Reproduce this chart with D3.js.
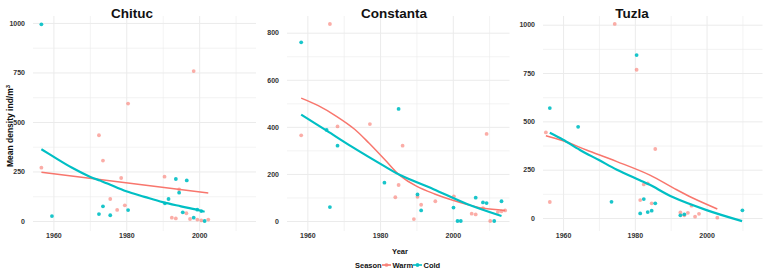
<!DOCTYPE html>
<html>
<head>
<meta charset="utf-8">
<script src="https://cdn.jsdelivr.net/npm/d3@7"></script>
<style>
  body { margin: 0; background: #fff; }
  text { font-family: "Liberation Sans", Arial, sans-serif; }
</style>
</head>
<body>
<div id="chart"></div>
<script>
// CHART DEFAULTS
const WIDTH = 765;
const HEIGHT = 274;
const PLOT_TOP = 16;
const PLOT_BOTTOM = 231;
const WARM_COLOR = '#F8766D';
const COLD_COLOR = '#00BFC4';
const GRID_COLOR = '#ebebeb';

// x axis shared by all three stations
const X_DOMAIN = [1954.4, 2015.6];
const X_TICKS = [1960, 1980, 2000];
const X_MINOR = [1970, 1990, 2010];

const STATIONS = ['Chituc', 'Constanta', 'Tuzla'];
const SEASONS = ['Warm', 'Cold'];

// CHITUC  [year, mean density]
const chitucWarm = [[1956.7,269],[1972.5,433],[1973.6,305],[1975.6,111],[1977.5,56],[1978.6,217],
  [1979.6,79],[1980.5,593],[1990.5,224],[1992.5,17],[1993.6,13],[1994.5,160],[1996.5,39],
  [1997.5,10],[1998.5,757],[1999.5,7],[2000.6,3],[2002.5,7]];
const chitucCold = [[1956.7,993],[1959.6,25],[1972.5,35],[1973.6,74],[1975.6,29],[1980.5,55],
  [1990.6,89],[1991.6,111],[1993.6,212],[1994.5,143],[1995.5,44],[1996.6,205],[1998.5,17],
  [1999.5,57],[2000.6,50],[2001.5,0]];
const chitucWarmFit = [[1956.7,246],[2002.5,141]];
const chitucColdFit = [[1956.7,362],[1960,325],[1965,270],[1970,224],[1972.8,204],[1975,188],
  [1980,150],[1985,122],[1990,95],[1995,74],[2000,54],[2001.5,47]];
const chitucTicks = [0, 250, 500, 750, 1000];
const chitucMinor = [125, 375, 625, 875];

// CONSTANTA
const constantaWarm = [[1958.3,364],[1966.2,837],[1968.3,402],[1977.2,412],[1984.2,101],[1985.1,153],
  [1986.2,320],[1989.3,8],[1990.3,103],[1991.3,69],[1995.2,84],[2000.3,105],[2005.2,31],
  [2006.3,28],[2008.3,55],[2009.3,370],[2010.3,0],[2012.4,38],[2013.4,41],[2014.4,45]];
const constantaCold = [[1958.3,759],[1965.3,387],[1966.2,59],[1968.3,320],[1981.2,163],[1985.1,476],
  [1990.3,113],[1991.3,45],[2000.2,57],[2001.3,0],[2002.2,0],[2006.3,99],[2008.3,79],
  [2009.3,76],[2011.4,0],[2013.4,84]];
const constantaWarmFit = [[1958.3,522],[1963,490],[1968,445],[1973,390],[1977,330],
  [1981.4,259],[1985.5,193],[1990,148],[1995,115],[2000,88],[2004,70],[2008.4,54],[2014.4,45]];
const constantaColdFit = [[1958.3,452],[1965.3,384],[1972.2,316],[1981.4,231],[1985.5,195],
  [1994.7,135],[2003.9,72],[2013.4,21]];
const constantaTicks = [0, 200, 400, 600, 800];
const constantaMinor = [100, 300, 500, 700];

// TUZLA
const tuzlaWarm = [[1955.2,443],[1956.3,83],[1974.4,1004],[1980.5,767],[1981.5,93],[1982.5,174],
  [1983.6,179],[1984.7,76],[1985.7,357],[1992.7,29],[1993.8,14],[1994.8,27],[1995.8,64],
  [1996.8,7],[1997.9,22],[2003,2]];
const tuzlaCold = [[1956.3,569],[1964.2,472],[1973.5,84],[1980.5,843],[1981.5,24],[1982.5,98],
  [1983.6,31],[1984.7,38],[1985.7,76],[1992.7,14],[1993.8,19],[2010,40]];
const tuzlaWarmFit = [[1955.2,426],[1960,400],[1966.5,352],[1975,292],[1984.2,222],[1990.7,156],
  [1996,105],[2003,47]];
const tuzlaColdFit = [[1956.3,441],[1960,405],[1964.7,352],[1970,300],[1975,250],[1981.4,196],
  [1984.2,172],[1990.7,107],[2000,41],[2009.9,-16]];
const tuzlaTicks = [0, 250, 500, 750, 1000];
const tuzlaMinor = [125, 375, 625, 875];

// panel layout (pixel placement only)
const panels = [
  { name: STATIONS[0], left: 33, right: 256, yDomain: [-50.5, 1035], titleX: 132,
    warm: chitucWarm, cold: chitucCold, warmFit: chitucWarmFit, coldFit: chitucColdFit,
    ticks: chitucTicks, minor: chitucMinor },
  { name: STATIONS[1], left: 287, right: 509.5, yDomain: [-42.5, 871], titleX: 394,
    warm: constantaWarm, cold: constantaCold, warmFit: constantaWarmFit, coldFit: constantaColdFit,
    ticks: constantaTicks, minor: constantaMinor },
  { name: STATIONS[2], left: 543, right: 762.5, yDomain: [-67, 1045], titleX: 632,
    warm: tuzlaWarm, cold: tuzlaCold, warmFit: tuzlaWarmFit, coldFit: tuzlaColdFit,
    ticks: tuzlaTicks, minor: tuzlaMinor },
];

const svg = d3.select('#chart')
  .append('svg')
  .attr('width', WIDTH)
  .attr('height', HEIGHT);

panels.forEach(drawPanel);

function drawPanel (p) {
  const x = d3.scaleLinear().domain(X_DOMAIN).range([p.left, p.right]);
  const y = d3.scaleLinear().domain(p.yDomain).range([PLOT_BOTTOM, PLOT_TOP]);
  const g = svg.append('g').attr('class', 'panel');
  const plotH = PLOT_BOTTOM - PLOT_TOP;
  const plotW = p.right - p.left;

  // grid lines (minor first, then major)
  const gridX = (vals, w) => g.append('g')
    .attr('transform', `translate(0, ${PLOT_BOTTOM})`)
    .call(d3.axisBottom(x).tickValues(vals).tickSize(-plotH).tickFormat(''))
    .call(a => a.select('.domain').remove())
    .call(a => a.selectAll('line').attr('stroke', GRID_COLOR).attr('stroke-width', w));
  const gridY = (vals, w) => g.append('g')
    .attr('transform', `translate(${p.left}, 0)`)
    .call(d3.axisLeft(y).tickValues(vals).tickSize(-plotW).tickFormat(''))
    .call(a => a.select('.domain').remove())
    .call(a => a.selectAll('line').attr('stroke', GRID_COLOR).attr('stroke-width', w));
  gridX(X_MINOR, 0.6);
  gridY(p.minor, 0.6);
  gridX(X_TICKS, 1);
  gridY(p.ticks, 1);

  // tick labels
  g.append('g')
    .attr('transform', `translate(0, ${PLOT_BOTTOM})`)
    .call(d3.axisBottom(x).tickValues(X_TICKS).tickSize(0).tickPadding(2.5).tickFormat(d3.format('d')))
    .call(a => a.select('.domain').remove())
    .call(a => a.selectAll('text').attr('font-size', 7).attr('font-weight', 'bold')
      .attr('fill', '#333').style('font-family', '"Liberation Sans", Arial, sans-serif'));
  g.append('g')
    .attr('transform', `translate(${p.left}, 0)`)
    .call(d3.axisLeft(y).tickValues(p.ticks).tickSize(0).tickPadding(8).tickFormat(d3.format('d')))
    .call(a => a.select('.domain').remove())
    .call(a => a.selectAll('text').attr('font-size', 7).attr('font-weight', 'bold')
      .attr('fill', '#333').style('font-family', '"Liberation Sans", Arial, sans-serif'));

  // points
  g.append('g').selectAll('circle.warm')
    .data(p.warm)
    .join('circle')
    .attr('cx', d => x(d[0]))
    .attr('cy', d => y(d[1]))
    .attr('r', 1.9)
    .attr('fill', WARM_COLOR)
    .attr('fill-opacity', 0.6);
  g.append('g').selectAll('circle.cold')
    .data(p.cold)
    .join('circle')
    .attr('cx', d => x(d[0]))
    .attr('cy', d => y(d[1]))
    .attr('r', 1.9)
    .attr('fill', COLD_COLOR)
    .attr('fill-opacity', 0.9);

  // smooth lines
  const line = d3.line()
    .x(d => x(d[0]))
    .y(d => y(d[1]))
    .curve(d3.curveCatmullRom.alpha(0.5));
  g.append('path')
    .attr('d', line(p.warmFit))
    .attr('fill', 'none')
    .attr('stroke', WARM_COLOR)
    .attr('stroke-width', 1.5);
  g.append('path')
    .attr('d', line(p.coldFit))
    .attr('fill', 'none')
    .attr('stroke', COLD_COLOR)
    .attr('stroke-width', 2.2);

  // station title
  svg.append('text')
    .attr('x', p.titleX)
    .attr('y', 18)
    .attr('text-anchor', 'middle')
    .attr('font-size', 13.5)
    .attr('font-weight', 'bold')
    .attr('fill', '#111')
    .text(p.name);
}

// y axis title
const yTitle = svg.append('text')
  .attr('transform', 'translate(13, 126) rotate(-90)')
  .attr('text-anchor', 'middle')
  .attr('font-size', 8.5)
  .attr('font-weight', 'bold')
  .attr('fill', '#111');
yTitle.append('tspan').text('Mean density ind/m');
yTitle.append('tspan').attr('dy', -3).attr('font-size', 6).text('3');

// x axis title
svg.append('text')
  .attr('x', 400)
  .attr('y', 254)
  .attr('text-anchor', 'middle')
  .attr('font-size', 7.5)
  .attr('font-weight', 'bold')
  .attr('fill', '#111')
  .text('Year');

// legend
const legend = svg.append('g').attr('transform', 'translate(0, 265)');
legend.append('text')
  .attr('x', 355)
  .attr('dy', '0.35em')
  .attr('font-size', 7.5)
  .attr('font-weight', 'bold')
  .attr('fill', '#111')
  .text('Season');
const keyX = [382, 413];
SEASONS.forEach((s, i) => {
  const col = i === 0 ? WARM_COLOR : COLD_COLOR;
  const k = legend.append('g').attr('transform', `translate(${keyX[i]}, 0)`);
  k.append('line').attr('x1', 0).attr('x2', 9).attr('stroke', col).attr('stroke-width', 1.6);
  k.append('circle').attr('cx', 4.5).attr('r', 1.9).attr('fill', col).attr('fill-opacity', i === 0 ? 0.6 : 0.9);
  k.append('text')
    .attr('x', 10.5)
    .attr('dy', '0.35em')
    .attr('font-size', 7.5)
    .attr('font-weight', 'bold')
    .attr('fill', '#111')
    .text(s);
});
</script>
</body>
</html>
